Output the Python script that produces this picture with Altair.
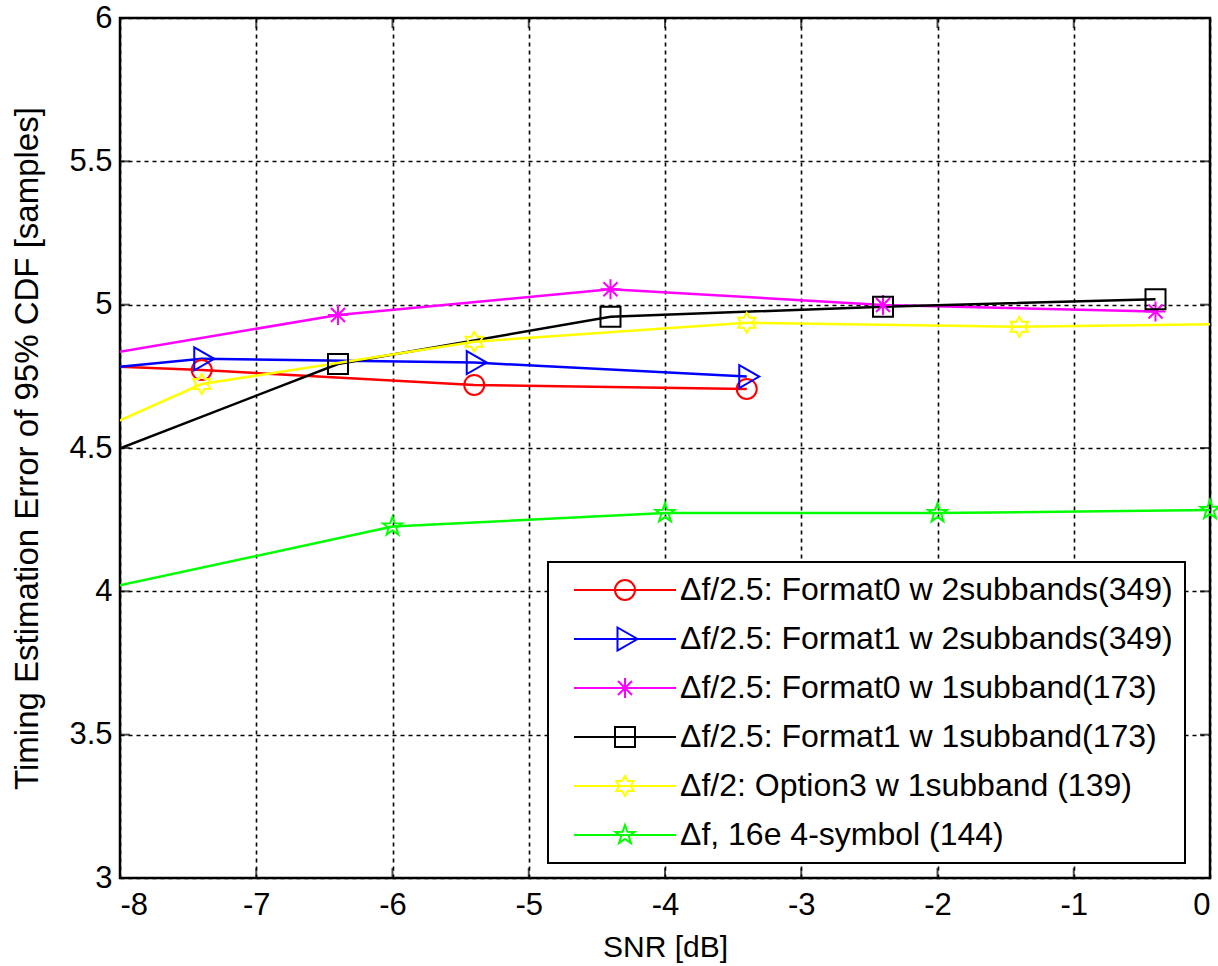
import math
import altair as alt
import pandas as pd

# ---------------- data ----------------
series_names = [
    "Δf/2.5: Format0 w 2subbands(349)",
    "Δf/2.5: Format1 w 2subbands(349)",
    "Δf/2.5: Format0 w 1subband(173)",
    "Δf/2.5: Format1 w 1subband(173)",
    "Δf/2: Option3 w 1subband (139)",
    "Δf, 16e 4-symbol (144)",
]
series_colors = ["#FF0000", "#0000FF", "#FF00FF", "#000000", "#FFFF00", "#00FF00"]

f0_2sb_x = [-9.4, -7.4, -5.4, -3.4]
f0_2sb_y = [4.81, 4.772, 4.72, 4.706]

f1_2sb_x = [-9.4, -7.4, -5.4, -3.4]
f1_2sb_y = [4.72, 4.811, 4.798, 4.749]

f0_1sb_x = [-8.4, -6.4, -4.4, -2.4, -0.4]
f0_1sb_y = [4.804, 4.964, 5.054, 4.999, 4.976]

f1_1sb_x = [-8.4, -6.4, -4.4, -2.4, -0.4]
f1_1sb_y = [4.425, 4.793, 4.958, 4.993, 5.019]

opt3_x = [-9.4, -7.4, -5.4, -3.4, -1.4, 0.6]
opt3_y = [4.30, 4.723, 4.871, 4.937, 4.923, 4.936]

e16_x = [-10, -6, -4, -2, 0]
e16_y = [3.816, 4.226, 4.273, 4.273, 4.284]

x_ticks = [-8, -7, -6, -5, -4, -3, -2, -1, 0]
y_ticks = [3, 3.5, 4, 4.5, 5, 5.5, 6]
x_range = [-8, 0]
y_range = [3, 6]

all_x = [f0_2sb_x, f1_2sb_x, f0_1sb_x, f1_1sb_x, opt3_x, e16_x]
all_y = [f0_2sb_y, f1_2sb_y, f0_1sb_y, f1_1sb_y, opt3_y, e16_y]

rows = []
for name, xs, ys in zip(series_names, all_x, all_y):
    for i, (xv, yv) in enumerate(zip(xs, ys)):
        rows.append({"series": name, "snr": xv, "err": yv, "order": i})
df = pd.DataFrame(rows)

# ---------------- marker shapes (unit square paths) ----------------
def star_path(n, r_in):
    pts = []
    for k in range(2 * n):
        r = 1.0 if k % 2 == 0 else r_in
        a = -math.pi / 2 + k * math.pi / n
        pts.append((r * math.cos(a), r * math.sin(a)))
    return "M " + " L ".join(f"{px:.3f} {py:.3f}" for px, py in pts) + " Z"

circ = "M 1 0 A 1 1 0 1 1 -1 0 A 1 1 0 1 1 1 0 Z"
tri = "M -0.75 -1.15 L 1.25 0 L -0.75 1.15 Z"
ast = "M -1 0 L 1 0 M 0 -1 L 0 1 M -0.7 -0.7 L 0.7 0.7 M -0.7 0.7 L 0.7 -0.7"
sq = "M -1 -1 L 1 -1 L 1 1 L -1 1 Z"
hexa = star_path(6, 0.577)
penta = star_path(5, 0.40)
marker_paths = [circ, tri, ast, sq, hexa, penta]
legend_paths = ["M -5.1 0 L 5.1 0 " + p for p in marker_paths]

FONT = "Liberation Sans"

x_enc = alt.X(
    "snr:Q",
    scale=alt.Scale(domain=x_range, nice=False, zero=False),
    axis=alt.Axis(values=x_ticks, title="SNR [dB]", grid=True, domain=False, ticks=False,
                  labelPadding=12, titlePadding=12, labelExpr="'' + datum.value"),
)
y_enc = alt.Y(
    "err:Q",
    scale=alt.Scale(domain=y_range, nice=False, zero=False),
    axis=alt.Axis(values=y_ticks, title="Timing Estimation Error of 95% CDF [samples]", grid=True,
                  domain=False, ticks=False, labelPadding=8, titleX=-76,
                  titleFontSize=33, labelExpr="'' + datum.value"),
)

color_scale = alt.Scale(domain=series_names, range=series_colors)

lines = alt.Chart(df).mark_line(clip=True, strokeWidth=2.5).encode(
    x=x_enc, y=y_enc,
    color=alt.Color("series:N", scale=color_scale, legend=None),
    order="order:Q",
)

points = alt.Chart(df).transform_filter(
    "datum.snr >= -8 && datum.snr <= 0"
).mark_point(filled=False, size=400, strokeWidth=2, opacity=1).encode(
    x=x_enc, y=y_enc,
    color=alt.Color("series:N", scale=color_scale, legend=None),
    shape=alt.Shape("series:N", scale=alt.Scale(domain=series_names, range=marker_paths), legend=None),
)

leg = alt.Legend(
    title=None, orient="none", legendX=428, legendY=544,
    symbolSize=400, symbolStrokeWidth=2, symbolOffset=49, labelOffset=39,
    labelFontSize=32, labelFont=FONT, labelColor="black", labelLimit=800,
    padding=12, rowPadding=17, fillColor="white", strokeColor="black",
    symbolType="circle",
)

legend_layer = alt.Chart(df).transform_filter("false").mark_point(
    filled=False, size=400, strokeWidth=2, opacity=1
).encode(
    x=x_enc, y=y_enc,
    color=alt.Color("series:N", scale=color_scale, legend=leg),
    shape=alt.Shape("series:N", scale=alt.Scale(domain=series_names, range=legend_paths), legend=leg),
)

# inward tick marks on the box
ytick_rows = [{"snr": ex, "err": yv} for ex in x_range for yv in y_ticks]
xtick_rows = [{"snr": xv, "err": ey} for ey in y_range for xv in x_ticks]
ytk = alt.Chart(pd.DataFrame(ytick_rows)).mark_tick(
    orient="horizontal", size=20, thickness=2, color="black", clip=True
).encode(x=x_enc, y=y_enc)
xtk = alt.Chart(pd.DataFrame(xtick_rows)).mark_tick(
    orient="vertical", size=20, thickness=2, color="black", clip=True
).encode(x=x_enc, y=y_enc)

chart = alt.layer(lines, points, legend_layer, ytk, xtk).resolve_scale(
    color="independent", shape="independent"
).properties(
    width=1090, height=860,
    autosize=alt.AutoSizeParams(type="none"),
    padding={"left": 120, "top": 18, "right": 8, "bottom": 88},
    background="white",
).configure_view(
    stroke="black", strokeWidth=2.5
).configure_axis(
    labelFont=FONT, labelFontSize=31, labelColor="black",
    titleFont=FONT, titleFontSize=30, titleFontWeight="normal", titleColor="black",
    gridColor="black", gridDash=[4, 4], gridWidth=1.6, gridOpacity=1,
).configure_legend(
    strokeWidth=2
)

chart.save("out.html", embed_options={"renderer": "svg", "actions": False})
